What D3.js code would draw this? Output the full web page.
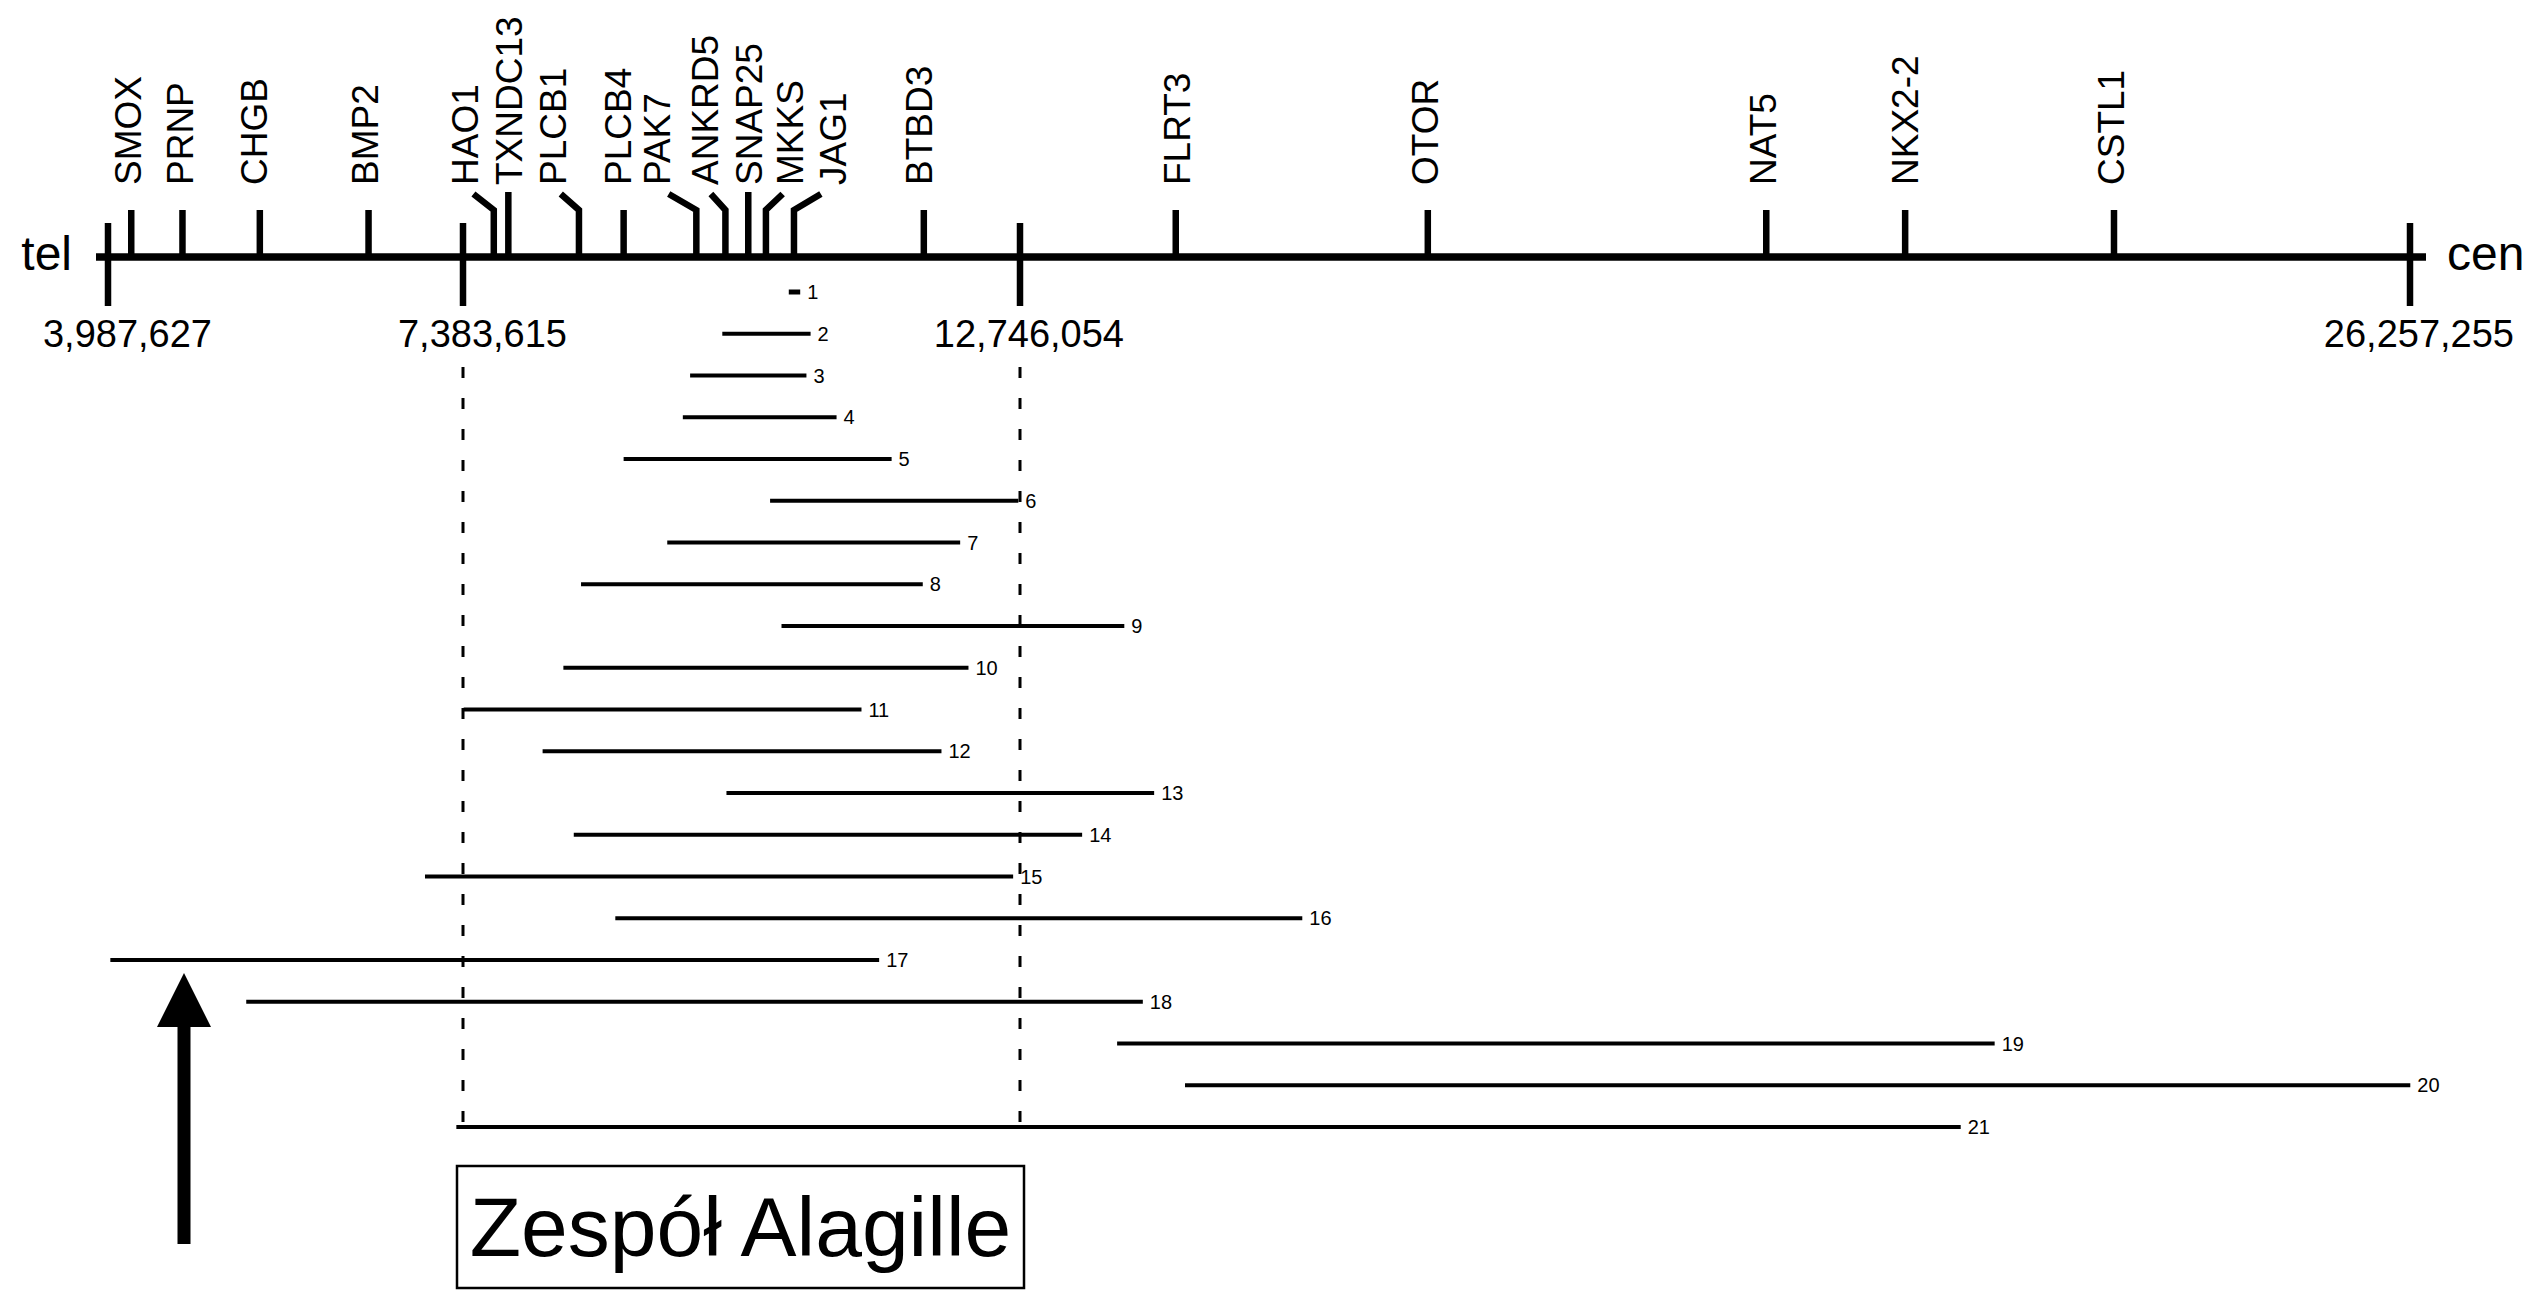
<!DOCTYPE html>
<meta charset="utf-8">
<style>
    body { margin: 0; background: #fff; }
    svg { display: block; }
    text { font-family: "Liberation Sans", Arial, sans-serif; fill: #000; }
    .gene text { font-size: 37px; }
    .mark text { font-size: 38px; }
    .cnv text { font-size: 20px; }
    .end-label { font-size: 48px; }
    .syndrome { font-size: 84px; }
</style>

<svg width="2530" height="1291"></svg>
<script src="https://d3js.org/d3.v7.min.js"></script>

<script>
    // genes on 20p (position in Mb) and the spot where each name is pinned
    var genes   = ["SMOX", "PRNP", "CHGB", "BMP2", "HAO1", "TXNDC13", "PLCB1", "PLCB4", "PAK7", "ANKRD5",
                   "SNAP25", "MKKS", "JAG1", "BTBD3", "FLRT3", "OTOR", "NAT5", "NKX2-2", "CSTL1"];
    var genePos = [4.21, 4.70, 5.44, 6.48, 7.68, 7.82, 8.50, 8.93, 9.63, 9.91,
                   10.13, 10.30, 10.57, 11.82, 14.26, 16.71, 20.00, 21.35, 23.38];
    var labelAt = [4.18, 4.67, 5.38, 6.44, 7.40, 7.82, 8.25, 8.87, 9.25, 9.71,
                   10.13, 10.53, 10.94, 11.77, 14.27, 16.68, 19.97, 21.35, 23.35];

    // base-pair marks on the axis
    var marks = [3987627, 7383615, 12746054, 26257255];

    // deletions (Mb)
    var cnvIds   = [1, 2, 3, 4, 5, 6, 7, 8, 9, 10, 11, 12, 13, 14, 15, 16, 17, 18, 19, 20, 21];
    var cnvStart = [10.52, 9.88, 9.57, 9.50, 8.93, 10.34, 9.35, 8.52, 10.45, 8.35, 7.39,
                    8.15, 9.92, 8.45, 7.02, 8.85, 4.01, 5.31, 13.69, 14.35, 7.32];
    var cnvEnd   = [10.63, 10.73, 10.69, 10.98, 11.51, 12.73, 12.17, 11.81, 13.76, 12.25, 11.22,
                    11.99, 14.05, 13.35, 12.68, 15.49, 11.39, 13.94, 22.22, 26.26, 21.89];

    var svg = d3.select("svg");
    svg.append("rect").attr("width", 2530).attr("height", 1291).attr("fill", "#fff");

    var axisY = 257;
    var fmt = d3.format(",d");

    // the drawing is not quite linear, so the scale is pinned at each mark
    var x = d3.scaleLinear()
        .domain(marks.map(function (d) { return d / 1e6; }))
        .range([108, 463, 1020, 2410]);

    var y = d3.scaleLinear().domain([1, 21]).range([292, 1127]);

    // dashed lines over the JAG1 region
    svg.selectAll(".guide")
        .data([marks[1], marks[2]])
        .enter().append("line")
        .attr("class", "guide")
        .attr("x1", function (d) { return x(d / 1e6); })
        .attr("x2", function (d) { return x(d / 1e6); })
        .attr("y1", 367).attr("y2", 1122)
        .attr("stroke", "#000").attr("stroke-width", 3)
        .attr("stroke-dasharray", "11,20");

    // main axis
    svg.append("line")
        .attr("x1", x.range()[0] - 12).attr("x2", x.range()[3] + 16)
        .attr("y1", axisY).attr("y2", axisY)
        .attr("stroke", "#000").attr("stroke-width", 7.5);

    svg.append("text").attr("class", "end-label")
        .attr("x", x.range()[0] - 36).attr("y", axisY + 13)
        .attr("text-anchor", "end").text("tel");
    svg.append("text").attr("class", "end-label")
        .attr("x", x.range()[3] + 37).attr("y", axisY + 13)
        .text("cen");

    // bp marks
    var mark = svg.selectAll(".mark")
        .data(marks)
        .enter().append("g").attr("class", "mark");
    mark.append("line")
        .attr("x1", function (d) { return x(d / 1e6); })
        .attr("x2", function (d) { return x(d / 1e6); })
        .attr("y1", 223).attr("y2", 306)
        .attr("stroke", "#000").attr("stroke-width", 6.5);
    mark.append("text")
        .attr("x", function (d) { return x(d / 1e6) + 104; })
        .attr("y", 347)
        .attr("text-anchor", "end")
        .text(function (d) { return fmt(d); });

    // gene ticks, with bent leaders where the name had to move
    var geneData = genes.map(function (g, i) {
        var px = x(genePos[i]);
        var near = d3.min(genePos, function (p, j) { return j === i ? Infinity : Math.abs(x(p) - px); });
        return { name: g, px: px, lx: x(labelAt[i]), near: near };
    });

    var gene = svg.selectAll(".gene")
        .data(geneData)
        .enter().append("g").attr("class", "gene");

    gene.append("path")
        .attr("d", function (d) {
            if (Math.abs(d.lx - d.px) > 10) {
                var tx = d.px + 0.7 * (d.lx - d.px);
                return "M" + tx + ",194L" + d.px + ",210L" + d.px + "," + axisY;
            }
            var top = d.near < 30 ? 192 : 210;
            return "M" + d.px + "," + top + "L" + d.px + "," + axisY;
        })
        .attr("fill", "none")
        .attr("stroke", "#000").attr("stroke-width", 6.5)
        .attr("stroke-linejoin", "miter");

    gene.append("text")
        .attr("transform", function (d) { return "translate(" + d.lx + ",185) rotate(-90)"; })
        .attr("dy", "0.358em")
        .text(function (d) { return d.name; });

    // deletion bars
    var cnv = svg.selectAll(".cnv")
        .data(cnvIds)
        .enter().append("g").attr("class", "cnv");

    cnv.append("line")
        .attr("x1", function (d, i) { return x(cnvStart[i]); })
        .attr("x2", function (d, i) { return x(cnvEnd[i]); })
        .attr("y1", function (d) { return y(d); })
        .attr("y2", function (d) { return y(d); })
        .attr("stroke", "#000")
        .attr("stroke-width", function (d) { return d === 1 ? 5 : 4; });

    cnv.append("text")
        .attr("x", function (d, i) { return x(cnvEnd[i]) + 7; })
        .attr("y", function (d) { return y(d); })
        .attr("dy", "0.35em")
        .text(function (d) { return d; });

    // arrow
    var ax = 184;
    svg.append("line")
        .attr("x1", ax).attr("x2", ax)
        .attr("y1", 1244).attr("y2", 1024)
        .attr("stroke", "#000").attr("stroke-width", 13);
    svg.append("path")
        .attr("d", "M" + ax + ",973L" + (ax + 27) + ",1027L" + (ax - 27) + ",1027Z")
        .attr("fill", "#000");

    // syndrome box spanning the JAG1 region
    var bx0 = x(marks[1] / 1e6) - 6, bx1 = x(marks[2] / 1e6) + 4;
    svg.append("rect")
        .attr("x", bx0).attr("y", 1166)
        .attr("width", bx1 - bx0).attr("height", 122)
        .attr("fill", "none").attr("stroke", "#000").attr("stroke-width", 2.5);
    svg.append("text").attr("class", "syndrome")
        .attr("x", (bx0 + bx1) / 2).attr("y", 1256)
        .attr("text-anchor", "middle")
        .text("Zespół Alagille");
</script>
